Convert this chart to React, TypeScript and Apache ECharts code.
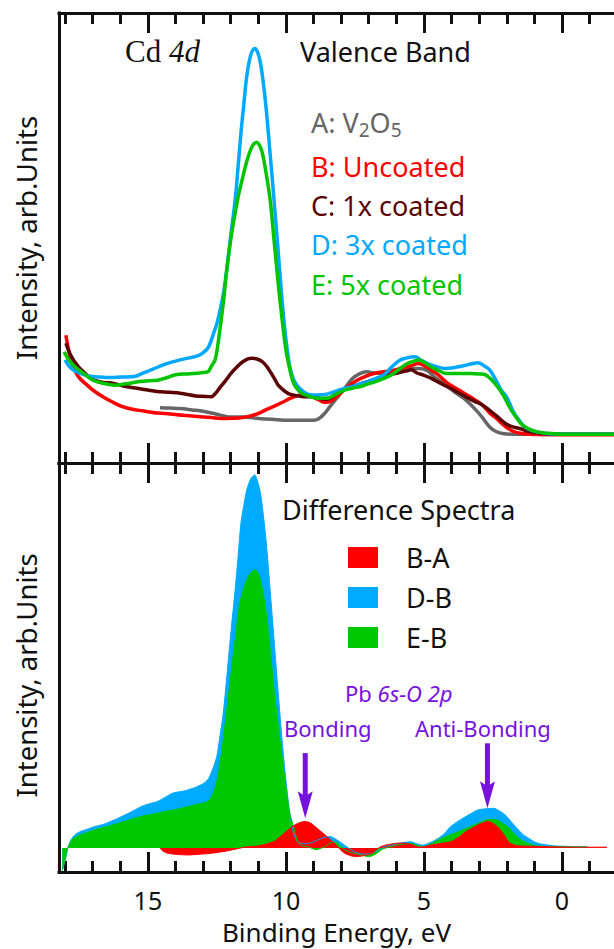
import React, { useEffect, useRef } from "react";
import * as echarts from "echarts";

type Pt = [number, number];

// Valence band spectra: [binding energy (eV), intensity (arb. units)]
const specA: Pt[] = [
  [14.56, 12.3], [14.2, 12.2], [13.83, 12.1], [13.4, 11.8], [13.0, 11.5], [12.41, 10.7], [12.04, 10.2],
  [11.56, 10.2], [11.0, 9.9], [10.5, 9.7], [9.86, 9.5], [9.3, 9.5], [9.0, 9.5], [8.8, 9.9], [8.6, 11.0],
  [8.4, 12.6], [8.12, 14.7], [7.87, 16.6], [7.6, 18.7], [7.34, 19.8], [7.08, 20.3], [6.8, 20.0],
  [6.56, 19.9], [6.2, 20.3], [5.8, 20.6], [5.5, 21.0], [5.18, 21.0], [4.87, 20.5], [4.6, 19.0],
  [4.22, 17.4], [3.9, 15.8], [3.56, 14.4], [3.2, 12.3], [2.91, 10.3], [2.62, 8.0], [2.39, 7.0],
  [2.1, 6.5], [1.8, 6.4], [1.0, 6.4], [0, 6.4], [-1.9, 6.4],
];
const specB: Pt[] = [
  [17.97, 28.4], [17.85, 24.5], [17.7, 21.5], [17.52, 19.2], [17.2, 17.3], [16.95, 16.0], [16.6, 14.6],
  [16.3, 13.6], [15.95, 12.6], [15.6, 12.0], [15.2, 11.6], [14.64, 11.1], [14.2, 10.9], [13.7, 10.6],
  [13.3, 10.4], [12.7, 10.1], [12.2, 9.9], [11.7, 10.0], [11.38, 10.3], [11.0, 11.0], [10.73, 11.8],
  [10.4, 12.7], [10.08, 13.6], [9.8, 14.5], [9.43, 15.1], [9.1, 14.8], [8.8, 14.0], [8.6, 13.5],
  [8.35, 13.8], [8.12, 15.0], [7.87, 16.4], [7.47, 18.2], [7.1, 19.3], [6.82, 19.9], [6.45, 20.3],
  [6.17, 20.5], [5.85, 21.0], [5.52, 21.5], [5.2, 22.1], [4.95, 21.5], [4.7, 20.5], [4.48, 19.6],
  [4.2, 18.0], [3.96, 17.0], [3.62, 15.8], [3.3, 14.6], [2.91, 13.0], [2.6, 11.0], [2.39, 10.0],
  [2.15, 8.6], [2.0, 7.9], [1.75, 7.0], [1.5, 6.6], [1.2, 6.4], [0, 6.3], [-1.9, 6.3],
];
const specC: Pt[] = [
  [17.97, 26.6], [17.8, 24.0], [17.52, 21.4], [17.2, 19.5], [16.95, 18.4], [16.6, 17.9], [16.24, 17.7],
  [15.8, 17.0], [15.39, 16.6], [15.0, 16.2], [14.68, 15.9], [14.2, 15.7], [13.83, 15.5], [13.26, 14.9],
  [12.9, 14.8], [12.7, 14.7], [12.55, 15.5], [12.41, 16.6], [12.2, 18.2], [11.99, 19.9], [11.75, 21.5],
  [11.56, 22.5], [11.35, 23.2], [11.21, 23.3], [11.0, 23.0], [10.85, 22.5], [10.7, 21.5], [10.57, 20.3],
  [10.4, 18.6], [10.28, 17.3], [10.05, 16.0], [9.86, 15.3], [9.43, 14.8], [9.01, 14.7], [8.58, 14.1],
  [8.35, 14.6], [8.16, 15.5], [7.9, 16.4], [7.59, 17.0], [7.3, 17.6], [7.02, 18.1], [6.7, 18.7],
  [6.45, 19.2], [6.1, 19.8], [5.89, 20.1], [5.6, 20.5], [5.46, 20.7], [5.26, 20.0], [5.04, 19.6],
  [4.8, 19.0], [4.61, 18.4], [4.3, 17.4], [4.04, 16.6], [3.75, 15.6], [3.48, 14.7], [3.2, 13.8],
  [2.91, 13.0], [2.6, 11.6], [2.34, 10.3], [2.1, 9.0], [1.91, 8.3], [1.7, 7.9], [1.49, 7.6],
  [1.2, 7.0], [0.92, 6.7], [0.5, 6.4], [0, 6.4], [-1.9, 6.4],
];
const specD: Pt[] = [
  [18.0, 22.9], [17.85, 21.5], [17.66, 20.5], [17.35, 19.7], [17.09, 19.3], [16.7, 19.1], [16.38, 19.0],
  [15.95, 19.1], [15.5, 19.2], [15.2, 19.9], [14.96, 20.5], [14.6, 21.4], [14.26, 22.2], [13.9, 22.8],
  [13.55, 23.3], [13.2, 23.8], [12.98, 24.6], [12.8, 25.8], [12.62, 28.8], [12.5, 31.0], [12.41, 33.3],
  [12.27, 37.5], [12.13, 43.6], [12.0, 50.5], [11.84, 58.4], [11.73, 66.0], [11.63, 73.3], [11.52, 80.0],
  [11.42, 85.9], [11.28, 90.5], [11.13, 92.1], [11.02, 91.2], [10.92, 88.8], [10.82, 84.5], [10.71, 78.4],
  [10.57, 68.5], [10.43, 58.4], [10.28, 47.0], [10.14, 36.2], [10.0, 27.5], [9.86, 21.4], [9.72, 18.5],
  [9.57, 17.0], [9.35, 15.8], [9.15, 15.2], [8.87, 15.1], [8.58, 15.2], [8.36, 15.6], [8.16, 16.0],
  [7.87, 16.6], [7.59, 17.0], [7.3, 17.6], [7.02, 18.1], [6.74, 18.8], [6.45, 19.6], [6.17, 21.3],
  [5.89, 22.8], [5.65, 23.3], [5.32, 23.6], [5.1, 22.8], [4.87, 22.1], [4.6, 21.5], [4.22, 21.0],
  [3.9, 21.2], [3.56, 21.6], [3.3, 22.0], [3.04, 22.3], [2.8, 21.5], [2.62, 20.7], [2.4, 18.5],
  [2.2, 16.2], [2.0, 14.6], [1.77, 11.5], [1.55, 9.5], [1.35, 8.0], [1.08, 7.2], [0.8, 6.8],
  [0.5, 6.5], [0, 6.4], [-1.9, 6.4],
];
const specE: Pt[] = [
  [18.03, 24.7], [17.85, 22.8], [17.64, 21.4], [17.3, 19.8], [16.99, 18.4], [16.6, 17.7], [16.21, 17.3],
  [15.8, 17.6], [15.3, 18.1], [14.96, 18.3], [14.64, 18.4], [14.3, 19.0], [13.99, 19.6], [13.6, 19.8],
  [13.34, 19.9], [13.0, 20.1], [12.82, 20.3], [12.7, 21.5], [12.56, 23.0], [12.41, 28.8], [12.27, 35.5],
  [12.13, 43.6], [11.99, 50.0], [11.84, 55.5], [11.7, 60.0], [11.56, 63.6], [11.42, 67.0], [11.28, 69.6],
  [11.15, 71.0], [11.06, 71.2], [10.95, 70.5], [10.85, 68.8], [10.72, 64.5], [10.57, 58.4], [10.43, 49.5],
  [10.28, 39.9], [10.14, 32.0], [10.0, 25.1], [9.86, 20.8], [9.72, 17.7], [9.57, 16.3], [9.43, 15.5],
  [9.15, 14.8], [8.87, 14.4], [8.6, 14.4], [8.44, 14.5], [8.16, 15.4], [7.87, 16.2], [7.6, 16.6],
  [7.3, 17.0], [7.02, 17.6], [6.74, 18.1], [6.45, 18.8], [6.17, 19.6], [5.9, 20.8], [5.6, 22.1],
  [5.38, 22.6], [5.18, 22.9], [4.95, 22.2], [4.75, 21.4], [4.45, 20.5], [4.18, 19.9], [3.8, 19.9],
  [3.33, 19.9], [3.0, 19.8], [2.77, 19.6], [2.55, 18.5], [2.34, 17.0], [2.1, 14.8], [1.91, 12.5],
  [1.7, 10.5], [1.49, 8.8], [1.25, 7.7], [1.06, 7.2], [0.8, 6.8], [0.5, 6.6], [0, 6.4], [-1.9, 6.4],
];

// Difference spectra: [binding energy (eV), intensity difference (arb. units)]
const diffBA: Pt[] = [
  [14.56, 0], [14.45, -0.8], [14.26, -1.3], [13.9, -1.6], [13.55, -1.7], [13.1, -1.5], [12.7, -1.3],
  [12.2, -0.8], [11.84, -0.3], [11.5, 0.2], [11.13, 0.4], [10.8, 0.8], [10.43, 1.6], [10.2, 2.8],
  [10.0, 4.0], [9.78, 5.2], [9.57, 6.0], [9.4, 6.4], [9.29, 6.5], [9.1, 6.1], [9.01, 5.6], [8.8, 4.4],
  [8.58, 3.2], [8.35, 1.8], [8.16, 0.6], [8.0, -0.6], [7.87, -1.3], [7.65, -1.9], [7.45, -2.1],
  [7.2, -1.9], [6.88, -1.3], [6.7, -0.3], [6.6, 0.2], [6.4, 0.7], [6.17, 1.0], [5.9, 1.2], [5.6, 1.1],
  [5.35, 0.6], [5.18, 0.2], [5.0, 0.3], [4.75, 0.7], [4.4, 1.1], [4.04, 1.5], [3.75, 2.6], [3.48, 4.0],
  [3.25, 4.9], [3.05, 5.6], [2.85, 6.2], [2.7, 6.5], [2.55, 6.2], [2.34, 5.2], [2.1, 3.2], [1.91, 1.3],
  [1.7, 0.7], [1.49, 0.5], [1.0, 0.4], [0.5, 0.3], [-0.5, 0.2], [-1.63, 0.2],
];
const diffDB: Pt[] = [
  [18.1, -5.5], [18.0, -3.0], [17.9, 0], [17.8, 1.8], [17.65, 3.2], [17.45, 4.0], [17.2, 4.6],
  [16.95, 5.2], [16.6, 5.8], [16.38, 6.4], [16.1, 7.2], [15.82, 8.1], [15.5, 9.2], [15.25, 10.1],
  [14.95, 10.8], [14.68, 11.3], [14.4, 12.3], [14.11, 13.4], [13.8, 13.8], [13.55, 14.2], [13.25, 14.9],
  [12.98, 15.8], [12.8, 17.0], [12.62, 19.9], [12.5, 22.5], [12.41, 26.4], [12.27, 33.0], [12.13, 42.7],
  [11.99, 53.0], [11.84, 63.1], [11.73, 71.5], [11.63, 79.4], [11.52, 84.0], [11.42, 87.5], [11.28, 90.2],
  [11.13, 91.2], [11.02, 89.5], [10.92, 86.7], [10.82, 81.5], [10.71, 74.5], [10.57, 63.0], [10.43, 50.9],
  [10.28, 38.0], [10.14, 26.4], [10.0, 16.5], [9.86, 8.5], [9.72, 3.5], [9.57, 1.5], [9.3, 1.0],
  [9.0, 1.5], [8.7, 2.4], [8.4, 2.8], [8.16, 2.0], [7.9, 0.8], [7.73, 0], [7.5, -1.0], [7.2, -1.5],
  [6.9, -1.3], [6.6, -0.4], [6.4, 0.4], [6.17, 0.7], [5.8, 1.3], [5.46, 1.5], [5.25, 1.0], [5.04, 0.7],
  [4.75, 1.4], [4.47, 2.4], [4.25, 3.6], [4.04, 5.2], [3.75, 6.6], [3.48, 7.7], [3.25, 8.6], [3.05, 9.3],
  [2.75, 9.6], [2.48, 9.7], [2.25, 9.0], [2.06, 8.1], [1.85, 6.5], [1.63, 4.8], [1.4, 3.2], [1.21, 2.4],
  [1.0, 1.5], [0.78, 1.0], [0.21, 0.5], [-0.92, 0.3],
];
const diffEB: Pt[] = [
  [18.1, -5.5], [18.0, -3.0], [17.9, 0], [17.8, 1.5], [17.65, 2.6], [17.45, 3.2], [17.2, 3.8],
  [16.95, 4.4], [16.5, 5.2], [16.1, 6.0], [15.7, 6.8], [15.25, 7.7], [14.8, 8.3], [14.4, 8.9],
  [14.0, 9.4], [13.55, 10.1], [13.2, 10.7], [12.84, 11.3], [12.7, 12.5], [12.55, 15.0], [12.41, 20.0],
  [12.27, 26.4], [12.13, 34.5], [11.99, 42.7], [11.84, 51.0], [11.7, 59.0], [11.56, 62.8], [11.42, 65.5],
  [11.28, 67.2], [11.13, 68.0], [11.02, 67.3], [10.92, 65.5], [10.82, 62.0], [10.71, 57.4], [10.57, 48.5],
  [10.43, 38.6], [10.28, 30.0], [10.14, 22.3], [10.0, 15.0], [9.86, 8.5], [9.72, 5.2], [9.6, 2.0],
  [9.45, 0.6], [9.2, 0.3], [8.9, -0.4], [8.6, 0.3], [8.3, 1.5], [8.1, 1.0], [7.9, -0.3], [7.6, -1.2],
  [7.3, -1.7], [7.0, -2.1], [6.75, -1.5], [6.5, -0.3], [6.2, 0.3], [5.8, 0.9], [5.46, 1.1], [5.2, 0.6],
  [5.04, 0.3], [4.75, 1.0], [4.47, 2.0], [4.2, 2.8], [3.9, 3.6], [3.6, 4.4], [3.33, 5.2], [3.05, 6.0],
  [2.77, 6.8], [2.5, 7.0], [2.34, 6.8], [2.1, 5.8], [1.91, 4.8], [1.7, 3.2], [1.49, 2.0], [1.25, 1.2],
  [1.06, 0.7], [0.6, 0.4], [0.21, 0.3], [-0.9, 0.2],
];

// Energy axis ticks (eV)
const majorTicks = [15, 10, 5, 0];
const minorTicks = [18, 17, 16, 14, 13, 12, 11, 9, 8, 7, 6, 4, 3, 2, 1, -1];

const valenceNames = ["A: V2O5", "B: Uncoated", "C: 1x coated", "D: 3x coated", "E: 5x coated"];
const differenceNames = ["B-A", "D-B", "E-B"];

// Pb 6s-O 2p arrows: [energy, arrow top, arrow tip] in difference-spectrum units
const bondingArrow = [9.3, 23.2, 7.3];
const antiBondingArrow = [2.7, 25.6, 9.7];

const SANS = "'Noto Sans', 'Open Sans', sans-serif";
const SERIF = "'Liberation Serif', 'DejaVu Serif', serif";
const INK = "#111111";
const PURPLE = "#7612dc";
const valenceColors = ["#666666", "#ff0000", "#5c0404", "#00a8ff", "#00c400"];
const diffColors: Record<string, string> = { "B-A": "#ff0000", "D-B": "#00aaff", "E-B": "#00c800" };

const X_MIN = -1.884;
const X_MAX = 18.22;
const axisStroke = { color: INK, width: 3, cap: "square" };

function energyAxis(gridIndex: number, position: "top" | "bottom", major: boolean, labelled = false) {
  const axis: any = {
    type: "value",
    gridIndex,
    position,
    min: X_MIN,
    max: X_MAX,
    inverse: true,
    axisLine: { show: major, onZero: false, lineStyle: axisStroke },
    axisTick: {
      show: true,
      inside: true,
      length: major ? 20 : 11,
      customValues: major ? majorTicks : minorTicks,
      lineStyle: { color: INK, width: 3 },
    },
    axisLabel: labelled
      ? { show: true, customValues: majorTicks, margin: 15, fontSize: 25, lineHeight: 25, color: INK, fontFamily: SANS }
      : { show: false },
    splitLine: { show: false },
  };
  if (labelled) {
    axis.name = "Binding Energy, eV";
    axis.nameLocation = "middle";
    axis.nameGap = 46;
    axis.nameTextStyle = { fontSize: 26, lineHeight: 27, color: INK, fontFamily: SANS };
  }
  return axis;
}

function intensityAxis(gridIndex: number, min: number, max: number, shift = 0) {
  return {
    type: "value",
    gridIndex,
    position: "left",
    min,
    max,
    axisLine: { show: true, onZero: false, lineStyle: axisStroke },
    axisTick: { show: false },
    axisLabel: { show: false },
    splitLine: { show: false },
    name: "Intensity, arb.Units",
    nameLocation: "middle",
    nameGap: 19,
    nameTextStyle: { fontSize: 27.5, color: INK, fontFamily: SANS, padding: [0, shift, 0, 0] },
  };
}

function label(text: string, x: number, y: number, fill: string, size = 27, extra: any = {}) {
  return {
    type: "text",
    silent: true,
    style: { text, x, y, fill, fontSize: size, fontFamily: SANS, verticalAlign: "middle", align: "left", ...extra },
  };
}

export default function App() {
  const ref = useRef<HTMLDivElement>(null);

  useEffect(() => {
    const el = ref.current;
    if (!el) return;
    const chart = echarts.init(el, undefined, { renderer: "svg" });

    const valenceSeries = [specA, specB, specC, specD, specE].map((data, i) => ({
      type: "line",
      name: valenceNames[i],
      xAxisIndex: 0,
      yAxisIndex: 0,
      data,
      symbol: "none",
      showSymbol: false,
      smooth: 0.35,
      silent: true,
      lineStyle: { color: valenceColors[i], width: 3.5 },
      itemStyle: { color: valenceColors[i] },
    }));

    const diffData: Record<string, Pt[]> = { "B-A": diffBA, "D-B": diffDB, "E-B": diffEB };
    const differenceSeries = ["D-B", "E-B", "B-A"].map((name) => ({
      type: "line",
      name,
      xAxisIndex: 4,
      yAxisIndex: 1,
      data: diffData[name],
      symbol: "none",
      showSymbol: false,
      smooth: 0.25,
      silent: true,
      lineStyle: { color: diffColors[name], width: 1 },
      itemStyle: { color: diffColors[name] },
      areaStyle: { color: diffColors[name], opacity: 1 },
    }));

    chart.setOption({
      animation: false,
      backgroundColor: "#ffffff",
      grid: [
        { left: 59, right: 0, top: 13, height: 450 },
        { left: 59, right: 0, top: 463, height: 409 },
      ],
      xAxis: [
        energyAxis(0, "bottom", true),
        energyAxis(0, "bottom", false),
        energyAxis(0, "top", true),
        energyAxis(0, "top", false),
        energyAxis(1, "bottom", true, true),
        energyAxis(1, "bottom", false),
        energyAxis(1, "top", true),
        energyAxis(1, "top", false),
      ],
      yAxis: [intensityAxis(0, 0, 100), intensityAxis(1, -5.87, 94.13, 16)],
      legend: {
        data: differenceNames,
        orient: "vertical",
        left: 348,
        top: 542.5,
        padding: 0,
        itemGap: 10,
        itemWidth: 30,
        itemHeight: 21,
        icon: "rect",
        selectedMode: false,
        textStyle: { fontSize: 27, color: INK, fontFamily: SANS, lineHeight: 30, padding: [0, 0, 0, 23] },
      },
      series: [...valenceSeries, ...differenceSeries],
    });

    const toPx = (e: number, v: number) =>
      chart.convertToPixel({ xAxisIndex: 4, yAxisIndex: 1 }, [e, v]) as number[];
    const arrow = ([e, top, tip]: number[]) => {
      const a = toPx(e, top);
      const b = toPx(e, tip);
      const x = b[0];
      return [
        {
          type: "line",
          silent: true,
          shape: { x1: x, y1: a[1], x2: x, y2: b[1] - 22 },
          style: { stroke: PURPLE, lineWidth: 5 },
        },
        {
          type: "polygon",
          silent: true,
          shape: { points: [[x, b[1]], [x - 7.5, b[1] - 27], [x, b[1] - 22], [x + 7.5, b[1] - 27]] },
          style: { fill: PURPLE },
        },
      ];
    };

    const sub = { fontSize: 19, lineHeight: 19, fontFamily: SANS, verticalAlign: "bottom" };
    const reg = { fontSize: 27, lineHeight: 34, fontFamily: SANS };
    const valenceY = [122.5, 166.5, 205.5, 244.5, 284.5];

    chart.setOption({
      graphic: [
        {
          type: "text",
          silent: true,
          style: {
            text: "{n|Cd }{i|4d}",
            x: 125,
            y: 51.5,
            fill: INK,
            verticalAlign: "middle",
            rich: {
              n: { fontSize: 31, fontFamily: SERIF, fill: INK },
              i: { fontSize: 31, fontFamily: SERIF, fontStyle: "italic", fill: INK },
            },
          },
        },
        label("Valence Band", 300, 51.5, INK),
        {
          type: "text",
          silent: true,
          style: {
            text: "{n|A: V}{s|2}{n|O}{s|5}",
            x: 311,
            y: valenceY[0],
            fill: valenceColors[0],
            verticalAlign: "middle",
            rich: { n: { ...reg, fill: valenceColors[0] }, s: { ...sub, fill: valenceColors[0] } },
          },
        },
        ...valenceNames.slice(1).map((t, i) => label(t, 311, valenceY[i + 1], valenceColors[i + 1])),
        label("Difference Spectra", 282, 509.5, INK),
        {
          type: "text",
          silent: true,
          style: {
            text: "{n|Pb }{i|6s-O 2p}",
            x: 345,
            y: 693,
            fill: PURPLE,
            verticalAlign: "middle",
            rich: {
              n: { fontSize: 22, fontFamily: SANS, fill: PURPLE },
              i: { fontSize: 22, fontFamily: SANS, fontStyle: "italic", fill: PURPLE },
            },
          },
        },
        label("Bonding", 284, 728, PURPLE, 22),
        label("Anti-Bonding", 415, 728, PURPLE, 22),
        ...arrow(bondingArrow),
        ...arrow(antiBondingArrow),
      ],
    });

    return () => chart.dispose();
  }, []);

  return (
    <div
      ref={ref}
      style={{ position: "absolute", left: 0, top: 0, width: 614, height: 949, background: "#ffffff" }}
    />
  );
}
